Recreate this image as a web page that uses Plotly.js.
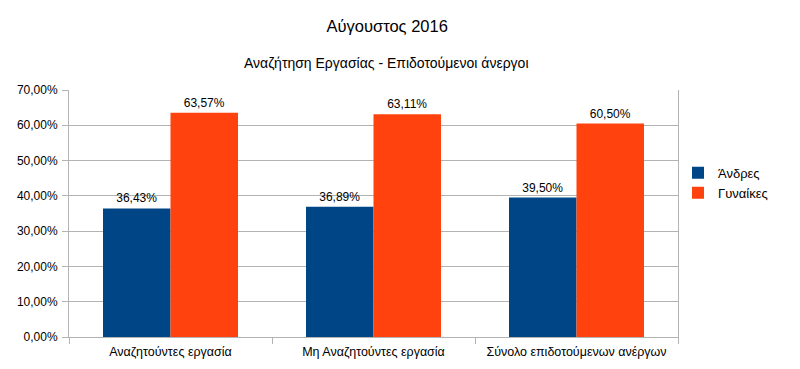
<!DOCTYPE html>
<html>
<head>
<meta charset="utf-8">
<script src="https://cdn.plot.ly/plotly-3.0.1.min.js"></script>
<style>html,body{margin:0;padding:0;background:#fff;}#chart{width:800px;height:369px;}</style>
</head>
<body>
<div id="chart"></div>
<script>
const chartTitle = "Αύγουστος 2016";
const chartSubtitle = "Αναζήτηση Εργασίας - Επιδοτούμενοι άνεργοι";
const categories = ["Αναζητούντες εργασία", "Μη Αναζητούντες εργασία", "Σύνολο επιδοτούμενων ανέργων"];
const seriesNames = ["Άνδρες", "Γυναίκες"];
const men = [0.3643, 0.3689, 0.3950];
const women = [0.6357, 0.6311, 0.6050];
const yTickVals = [0, 0.1, 0.2, 0.3, 0.4, 0.5, 0.6, 0.7];

const fmt = v => (v * 100).toFixed(2).replace('.', ',') + '%';
const font = "Liberation Sans, Arial, sans-serif";

const traces = [
  {type: 'bar', name: seriesNames[0], x: categories, y: men, marker: {color: '#004586'},
   text: men.map(fmt), textposition: 'outside', cliponaxis: false,
   textfont: {family: font, size: 12, color: '#000'}, hoverinfo: 'none'},
  {type: 'bar', name: seriesNames[1], x: categories, y: women, marker: {color: '#ff420e'},
   text: women.map(fmt), textposition: 'outside', cliponaxis: false,
   textfont: {family: font, size: 12, color: '#000'}, hoverinfo: 'none'}
];

const layout = {
  width: 800, height: 369,
  paper_bgcolor: '#fff', plot_bgcolor: '#fff',
  separators: ',.',
  font: {family: font, size: 12, color: '#000'},
  margin: {l: 69, r: 122, t: 90, b: 32},
  barmode: 'group', bargap: 0.335, bargroupgap: 0,
  title: {text: chartTitle, font: {family: font, size: 16.5, color: '#000'},
          x: 0.484, xanchor: 'center', y: 0.93, yanchor: 'middle'},
  annotations: [{text: chartSubtitle, xref: 'paper', yref: 'paper', x: 0.522, y: 1.11,
                 xanchor: 'center', yanchor: 'middle', showarrow: false,
                 font: {family: font, size: 14, color: '#000'}}],
  xaxis: {type: 'category', showline: true, linecolor: '#b3b3b3', linewidth: 1,
          ticks: 'outside', tickson: 'boundaries', ticklen: 6, tickcolor: '#b3b3b3',
          ticklabelstandoff: 3,
          tickfont: {family: font, size: 12.5, color: '#000'}, showgrid: false},
  yaxis: {range: [0, 0.7], tickvals: yTickVals, tickformat: '.2%', showgrid: true, gridcolor: '#b3b3b3',
          showline: true, mirror: true, linecolor: '#b3b3b3', linewidth: 1, zeroline: false,
          ticks: 'outside', ticklen: 6, tickcolor: '#b3b3b3', ticklabelstandoff: 2,
          tickfont: {family: font, size: 12, color: '#000'}},
  legend: {x: 1.0, xanchor: 'left', y: 0.624, yanchor: 'middle', font: {family: font, size: 13, color: '#000'},
           itemwidth: 30, tracegroupgap: 0, bgcolor: 'rgba(0,0,0,0)'},
  showlegend: true
};

Plotly.newPlot('chart', traces, layout, {displayModeBar: false, staticPlot: true});
</script>
</body>
</html>
